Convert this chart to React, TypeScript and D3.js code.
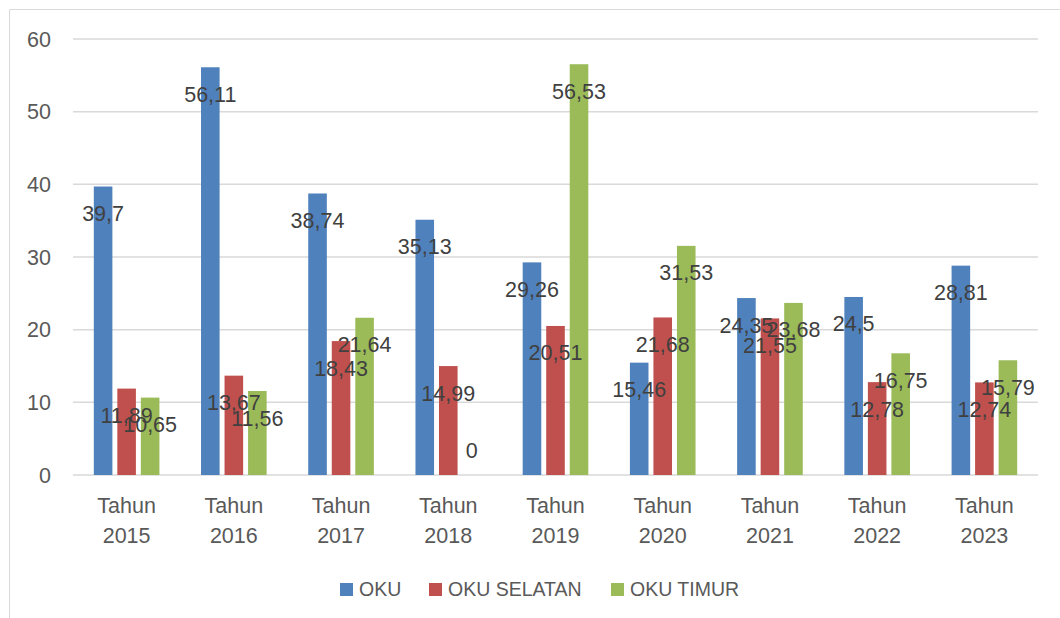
import React from 'react'
import * as d3 from 'd3'

const years = ['2015', '2016', '2017', '2018', '2019', '2020', '2021', '2022', '2023']
const seriesNames = ['OKU', 'OKU SELATAN', 'OKU TIMUR']
const oku = [39.7, 56.11, 38.74, 35.13, 29.26, 15.46, 24.35, 24.5, 28.81]
const okuSelatan = [11.89, 13.67, 18.43, 14.99, 20.51, 21.68, 21.55, 12.78, 12.74]
const okuTimur = [10.65, 11.56, 21.64, 0, 56.53, 31.53, 23.68, 16.75, 15.79]
const yTicks = [0, 10, 20, 30, 40, 50, 60]
const colors = ['#4F81BD', '#C0504D', '#9BBB59']

const font = '"Liberation Sans", Arial, sans-serif'

const App = () => {
  const W = 1060
  const H = 618
  const left = 73
  const right = 1038
  const top = 39
  const bottom = 475

  const values = [oku, okuSelatan, okuTimur]

  const x0 = d3.scaleBand<string>().domain(years).range([left, right])
  const x1 = d3
    .scaleBand<string>()
    .domain(seriesNames)
    .range([20.8, x0.bandwidth() - 20.8])
    .paddingInner(0.21)
  const y = d3.scaleLinear().domain([0, 60]).range([bottom, top])

  const fmt = (v: number) => String(v).replace('.', ',')

  // legend layout
  const legendX = [340, 429, 611]

  return (
    <div style={{ position: 'absolute', left: 0, top: 0 }}>
      <svg width={W} height={H} style={{ display: 'block', fontFamily: font }}>
        <rect width={W} height={H} fill="#fff" />
        <line x1={9.5} x2={W} y1={9.5} y2={9.5} stroke="#D9D9D9" />
        <line x1={9.5} x2={9.5} y1={9.5} y2={H} stroke="#D9D9D9" />

        {yTicks.map((t) => (
          <g key={t}>
            <line x1={left} x2={right} y1={y(t)} y2={y(t)} stroke="#D9D9D9" strokeWidth={1.5} />
            <text x={51} y={y(t)} dy="0.35em" textAnchor="end" fontSize={21.5} fill="#595959">
              {t}
            </text>
          </g>
        ))}

        {years.map((yr, i) => (
          <g key={yr} transform={`translate(${x0(yr)},0)`}>
            {seriesNames.map((s, j) => {
              const v = values[j][i]
              const bx = x1(s) as number
              return (
                <rect
                  key={s}
                  x={bx}
                  y={y(v)}
                  width={x1.bandwidth()}
                  height={bottom - y(v)}
                  fill={colors[j]}
                />
              )
            })}
            <text x={x0.bandwidth() / 2} y={505} dy="0.35em" textAnchor="middle" fontSize={21.5} fill="#595959">
              Tahun
            </text>
            <text x={x0.bandwidth() / 2} y={535} dy="0.35em" textAnchor="middle" fontSize={21.5} fill="#595959">
              {yr}
            </text>
          </g>
        ))}

        {years.map((yr, i) => (
          <g key={'l' + yr} transform={`translate(${x0(yr)},0)`}>
            {seriesNames.map((s, j) => {
              const v = values[j][i]
              const cx = (x1(s) as number) + x1.bandwidth() / 2
              // zero-height bars get their label just above the baseline
              const ly = v === 0 ? y(v) - 25 : y(v) + 27
              return (
                <text
                  key={s}
                  x={cx}
                  y={ly}
                  dy="0.35em"
                  textAnchor="middle"
                  fontSize={21.5}
                  fill="#404040"
                >
                  {fmt(v)}
                </text>
              )
            })}
          </g>
        ))}

        {seriesNames.map((s, j) => (
          <g key={s} transform={`translate(${legendX[j]},583)`}>
            <rect width={13} height={13} fill={colors[j]} />
            <text x={19} y={6.5} dy="0.35em" fontSize={19.5} fill="#595959">
              {s}
            </text>
          </g>
        ))}
      </svg>
    </div>
  )
}

export default App
